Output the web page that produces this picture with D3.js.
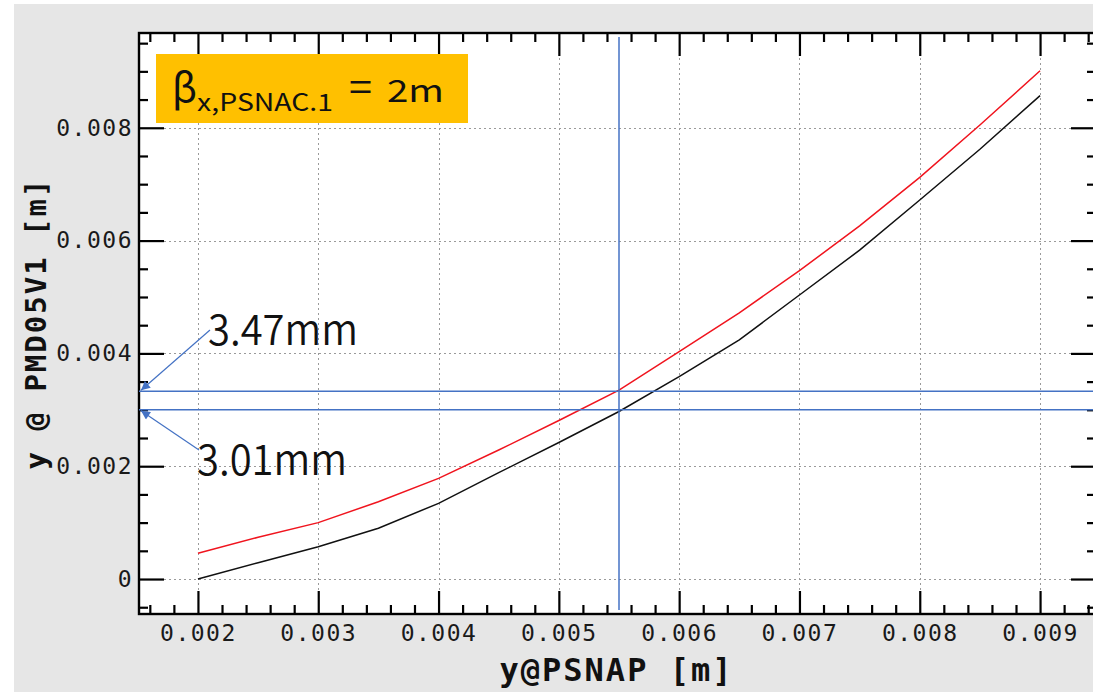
<!DOCTYPE html>
<html>
<head>
<meta charset="utf-8">
<script src="https://cdn.jsdelivr.net/npm/d3@7"></script>
<style>
  html, body { margin: 0; padding: 0; background: #ffffff; }
  svg { display: block; }
  .tick text { font-family: "DejaVu Sans Mono", monospace; font-size: 23px; letter-spacing: 1.5px; fill: #1a1a1a; }
</style>
</head>
<body>
<svg id="chart" width="1093" height="692"></svg>
<script>
// Scan positions y@PSNAP [m]
const scanX = [0.002, 0.0025, 0.003, 0.0035, 0.004, 0.0045, 0.005, 0.0055,
               0.006, 0.0065, 0.007, 0.0075, 0.008, 0.0085, 0.009];
// y @ PMD05V1 [m], red series
const redY = [0.000456, 0.00074, 0.00100, 0.00137, 0.001785, 0.002287, 0.00281, 0.00335,
              0.00403, 0.00472, 0.005467, 0.00626, 0.00712, 0.00805, 0.00901];
// y @ PMD05V1 [m], black series
const blackY = [0.0, 0.00029, 0.000573, 0.00090, 0.001342, 0.001885, 0.00242, 0.00297,
                0.003587, 0.00424, 0.005035, 0.00583, 0.00672, 0.00762, 0.00857];

// Axis ticks
const xMajorTicks = [0.002, 0.003, 0.004, 0.005, 0.006, 0.007, 0.008, 0.009];
const yMajorTicks = [0, 0.002, 0.004, 0.006, 0.008];
const xDomain = [0.00151, 0.009465];
const yDomain = [-0.00062, 0.00968];

// Cursor and reading levels
const cursorX = 0.0055;
const readLevels = [0.00333, 0.00300];
const readLabels = ["3.47mm", "3.01mm"];

const svg = d3.select("#chart");
const W = 1093, H = 692;
const plot = { left: 139, top: 33, right: 1096, bottom: 614 };

const x = d3.scaleLinear().domain(xDomain).range([plot.left, plot.right]);
const y = d3.scaleLinear().domain(yDomain).range([plot.bottom, plot.top]);

// Panel background
svg.append("rect").attr("x", 14).attr("y", 4).attr("width", W - 14).attr("height", H - 4)
  .attr("fill", "#e6e6e6");
svg.append("rect").attr("x", plot.left).attr("y", plot.top)
  .attr("width", plot.right - plot.left).attr("height", plot.bottom - plot.top)
  .attr("fill", "#ffffff");

// Dotted grid
const grid = svg.append("g").attr("stroke", "#9a9a9a").attr("stroke-width", 1)
  .attr("stroke-dasharray", "2,3");
grid.selectAll("line.gx").data(xMajorTicks).join("line")
  .attr("x1", d => Math.round(x(d)) + 0.5).attr("x2", d => Math.round(x(d)) + 0.5)
  .attr("y1", plot.top).attr("y2", plot.bottom);
grid.selectAll("line.gy").data(yMajorTicks).join("line")
  .attr("y1", d => Math.round(y(d)) + 0.5).attr("y2", d => Math.round(y(d)) + 0.5)
  .attr("x1", plot.left).attr("x2", plot.right);

// Axes
const xMinor = d3.range(0.0016, 0.00946, 0.0002).filter(v => !xMajorTicks.some(m => Math.abs(m - v) < 1e-9));
const yMinor = d3.range(-0.0005, 0.00966, 0.0005).filter(v => !yMajorTicks.some(m => Math.abs(m - v) < 1e-9));
const fmtY = d => d === 0 ? "0" : d3.format(".3f")(d);
const fmtX = d3.format(".3f");

function styleAxis(g) {
  g.select(".domain").remove();
  g.selectAll(".tick line").attr("stroke", "#000").attr("stroke-width", 2.2);
}

svg.append("g").attr("transform", `translate(0,${plot.bottom})`)
  .call(d3.axisBottom(x).tickValues(xMajorTicks).tickFormat(fmtX).tickSizeInner(-23).tickPadding(11))
  .call(styleAxis);
svg.append("g").attr("transform", `translate(0,${plot.bottom})`)
  .call(d3.axisBottom(x).tickValues(xMinor).tickFormat("").tickSizeInner(-9))
  .call(styleAxis);
svg.append("g").attr("transform", `translate(0,${plot.top})`)
  .call(d3.axisTop(x).tickValues(xMajorTicks).tickFormat("").tickSizeInner(-23))
  .call(styleAxis);
svg.append("g").attr("transform", `translate(0,${plot.top})`)
  .call(d3.axisTop(x).tickValues(xMinor).tickFormat("").tickSizeInner(-9))
  .call(styleAxis);

svg.append("g").attr("transform", `translate(${plot.left},0)`)
  .call(d3.axisLeft(y).tickValues(yMajorTicks).tickFormat(fmtY).tickSizeInner(-25).tickPadding(6))
  .call(styleAxis);
svg.append("g").attr("transform", `translate(${plot.left},0)`)
  .call(d3.axisLeft(y).tickValues(yMinor).tickFormat("").tickSizeInner(-9))
  .call(styleAxis);
svg.append("g").attr("transform", `translate(${plot.right},0)`)
  .call(d3.axisRight(y).tickValues(yMajorTicks).tickFormat("").tickSizeInner(-25))
  .call(styleAxis);
svg.append("g").attr("transform", `translate(${plot.right},0)`)
  .call(d3.axisRight(y).tickValues(yMinor).tickFormat("").tickSizeInner(-9))
  .call(styleAxis);

// Frame
svg.append("rect").attr("x", plot.left).attr("y", plot.top)
  .attr("width", plot.right - plot.left).attr("height", plot.bottom - plot.top)
  .attr("fill", "none").attr("stroke", "#000").attr("stroke-width", 2.4);

// Curves
const line = d3.line().x(d => x(d[0])).y(d => y(d[1]));
svg.append("path").datum(d3.zip(scanX, redY)).attr("d", line)
  .attr("fill", "none").attr("stroke", "#f0141e").attr("stroke-width", 1.5);
svg.append("path").datum(d3.zip(scanX, blackY)).attr("d", line)
  .attr("fill", "none").attr("stroke", "#111").attr("stroke-width", 1.5);

// Cursor lines
const blue = "#4472c4";
svg.append("line").attr("x1", x(cursorX)).attr("x2", x(cursorX))
  .attr("y1", 37).attr("y2", 610).attr("stroke", blue).attr("stroke-width", 1.5);
svg.selectAll("line.level").data(readLevels).join("line").attr("class", "level")
  .attr("x1", plot.left).attr("x2", W)
  .attr("y1", d => y(d)).attr("y2", d => y(d))
  .attr("stroke", blue).attr("stroke-width", 1.5);

// Arrow marker
svg.append("defs").append("marker").attr("id", "tri")
  .attr("viewBox", "0 0 10 10").attr("refX", 10).attr("refY", 5)
  .attr("markerWidth", 10).attr("markerHeight", 9).attr("markerUnits", "userSpaceOnUse")
  .attr("orient", "auto")
  .append("path").attr("d", "M0,0 L10,5 L0,10 Z").attr("fill", blue);

// Reading annotations
const annot = [
  { tail: [210, 330], textX: 208, textY: 345 },
  { tail: [199, 450], textX: 197, textY: 475 }
];
annot.forEach((a, i) => {
  svg.append("line").attr("x1", a.tail[0]).attr("y1", a.tail[1])
    .attr("x2", plot.left + 2).attr("y2", y(readLevels[i]) + (i === 0 ? -1 : 1))
    .attr("stroke", blue).attr("stroke-width", 1.2).attr("marker-end", "url(#tri)");
  svg.append("text").attr("x", a.textX).attr("y", a.textY)
    .attr("font-family", "'Noto Sans CJK JP', 'Noto Sans', sans-serif")
    .attr("font-weight", 350).attr("font-size", 42).attr("fill", "#111")
    .attr("textLength", 150).attr("lengthAdjust", "spacingAndGlyphs")
    .text(readLabels[i]);
});

// Beta-function label
svg.append("rect").attr("x", 156).attr("y", 54).attr("width", 312).attr("height", 69)
  .attr("fill", "#ffc000");
const lab = svg.append("g").attr("font-family", "'Noto Sans CJK JP', 'Noto Sans', sans-serif")
  .attr("fill", "#111").attr("font-weight", 400);
lab.append("text").attr("x", 172).attr("y", 102).attr("font-size", 40)
  .attr("textLength", 25).attr("lengthAdjust", "spacingAndGlyphs").text("β");
lab.append("text").attr("x", 197).attr("y", 110.5).attr("font-size", 24)
  .attr("textLength", 136).attr("lengthAdjust", "spacingAndGlyphs").text("x,PSNAC.1");
lab.append("text").attr("x", 349).attr("y", 101).attr("font-size", 38)
  .attr("textLength", 23).attr("lengthAdjust", "spacingAndGlyphs").text("=");
lab.append("text").attr("x", 387).attr("y", 102).attr("font-size", 31)
  .attr("textLength", 57).attr("lengthAdjust", "spacingAndGlyphs").text("2m");

// Axis titles
svg.append("text").attr("x", (plot.left + plot.right) / 2 - 1).attr("y", 681)
  .attr("text-anchor", "middle")
  .attr("font-family", "'DejaVu Sans Mono', monospace").attr("font-weight", "bold")
  .attr("font-size", 32).attr("letter-spacing", "2px").attr("fill", "#111")
  .text("y@PSNAP [m]");
svg.append("text").attr("transform", `translate(46,${(plot.top + plot.bottom) / 2}) rotate(-90)`)
  .attr("text-anchor", "middle")
  .attr("font-family", "'DejaVu Sans Mono', monospace").attr("font-weight", "bold")
  .attr("font-size", 29).attr("letter-spacing", "2px").attr("fill", "#111")
  .text("y @ PMD05V1 [m]");
</script>
</body>
</html>
